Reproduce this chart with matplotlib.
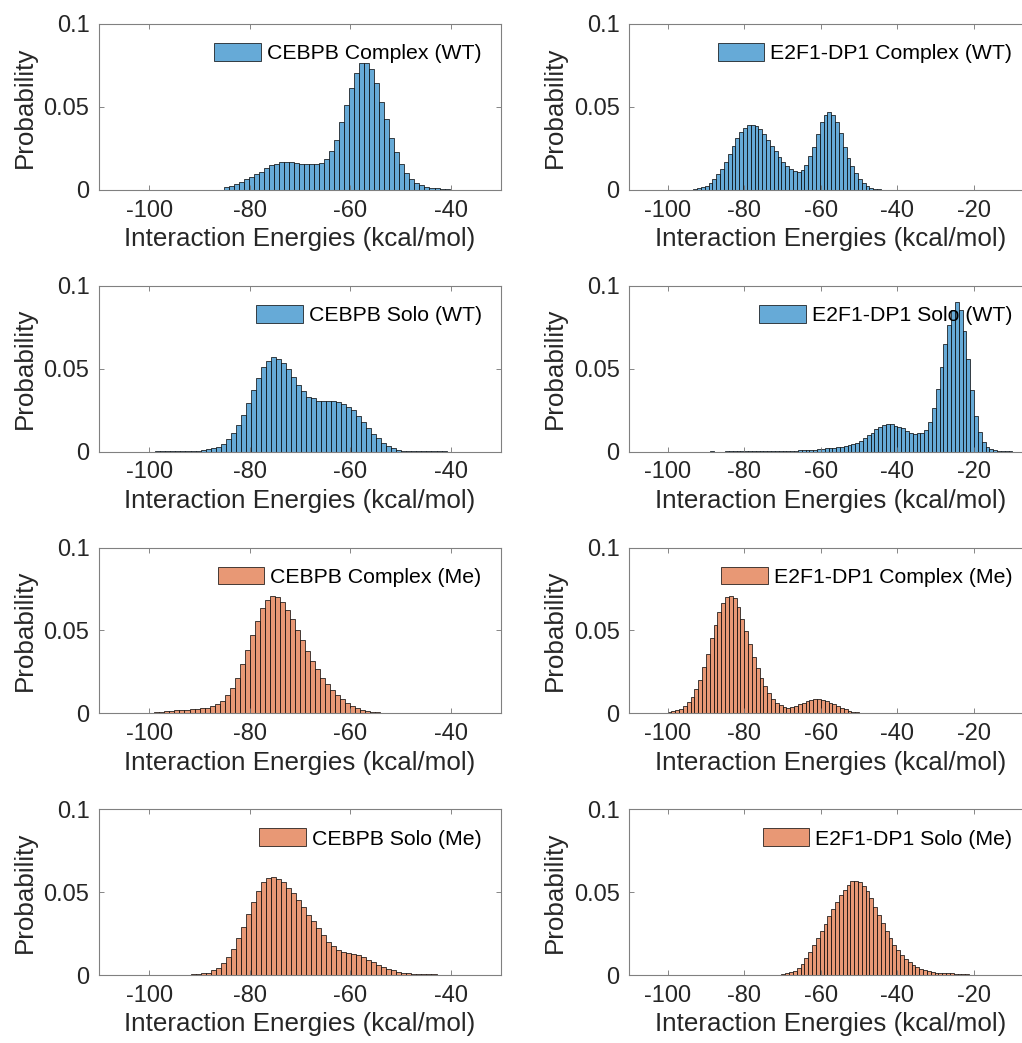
import numpy as np
import matplotlib
matplotlib.use("Agg")
import matplotlib.pyplot as plt

plt.rcParams['font.family'] = ['Liberation Sans', 'DejaVu Sans']
plt.rcParams['axes.unicode_minus'] = False

# bin width is 1 kcal/mol everywhere; start = left edge of the first bin
bin_w = 1.0

cebpb_cx_wt_start = -99.2
cebpb_cx_wt = [0.0001, 0.0001, 0.0001, 0, 0.0001, 0.0001, 0.0001, 0.0001, 0.0001, 0.0001, 0.0001, 0.0001, 0.0001,
               0.0001, 0.0016, 0.0024, 0.0034, 0.005, 0.0067, 0.008, 0.0097, 0.011, 0.013, 0.0147, 0.0157,
               0.0165, 0.0165, 0.0165, 0.016, 0.0157, 0.0155, 0.0153, 0.0155, 0.016, 0.0185, 0.0236, 0.030,
               0.0407, 0.051, 0.0615, 0.0706, 0.0766, 0.0766, 0.0726, 0.0645, 0.0528, 0.0427, 0.0312, 0.0226,
               0.0157, 0.010, 0.0067, 0.0044, 0.0028, 0.0018, 0.001, 0.0008, 0.0006, 0.0004]

e2f1_cx_wt_start = -100.3
e2f1_cx_wt = [0.0001, 0.0001, 0.0001, 0.0001, 0.0001, 0.0001, 0.0001,
              0.0006, 0.001, 0.0016, 0.0026, 0.004, 0.0067, 0.0098, 0.0128, 0.0169, 0.0215, 0.0266, 0.031,
              0.0348, 0.0372, 0.0388, 0.0392, 0.0382, 0.0366, 0.0335, 0.0301, 0.0266, 0.0236, 0.0199, 0.0169,
              0.0144, 0.0128, 0.0114, 0.0108, 0.0118, 0.0148, 0.0203, 0.026, 0.0337, 0.0407, 0.0453, 0.047,
              0.0453, 0.0409, 0.0341, 0.026, 0.0189, 0.0142, 0.0102, 0.0067, 0.004, 0.0024, 0.0012, 0.0006,
              0.0002, 0.0001, 0.0001, 0.0001, 0.0001, 0.0001, 0.0001, 0.0001, 0.0001, 0.0001]

cebpb_solo_wt_start = -98.8
cebpb_solo_wt = [0.0001, 0.0001, 0.0001, 0.0001, 0.0001, 0.0001, 0.0001, 0.0001, 0.0001,
                 0.0008, 0.0014, 0.002, 0.003, 0.0046, 0.0074, 0.011, 0.016, 0.022, 0.0295, 0.037, 0.0442,
                 0.0512, 0.0548, 0.0568, 0.0556, 0.0532, 0.0496, 0.0452, 0.0402, 0.0367, 0.0331, 0.0321,
                 0.0305, 0.0305, 0.0305, 0.0307, 0.0301, 0.0285, 0.0271, 0.0251, 0.0217, 0.0177, 0.0141,
                 0.0106, 0.008, 0.0054, 0.0034, 0.002, 0.0012, 0.0006,
                 0.0001, 0.0001, 0.0001, 0.0001, 0.0001, 0.0001, 0.0001, 0.0001]

e2f1_solo_wt_start = -89.0
e2f1_solo_wt = [0.0003, 0, 0, 0, 0.0001, 0.0001, 0.0001, 0.0001, 0.0001, 0.0001, 0.0001, 0.0001, 0.0001,
                0.0001, 0.0001, 0.0001, 0.0001, 0.0001, 0.0001, 0.0001, 0.0001, 0.0001,
                0.0006, 0.0008, 0.0008, 0.001, 0.0012, 0.0012, 0.0014, 0.0016, 0.002, 0.002, 0.0024, 0.0026,
                0.003, 0.0034, 0.004, 0.0046, 0.0054, 0.0066, 0.008, 0.0098, 0.0114, 0.0135, 0.015, 0.0159,
                0.0167, 0.0165, 0.0157, 0.015, 0.0141, 0.0127, 0.0114, 0.0106, 0.011, 0.011, 0.013, 0.0177,
                0.0261, 0.0378, 0.0512, 0.0649, 0.0763, 0.0853, 0.09, 0.0853, 0.0729, 0.0556, 0.0371, 0.0217,
                0.0116, 0.006, 0.003, 0.0016, 0.001, 0.0006, 0.0004, 0.0004, 0.0003]

cebpb_cx_me_start = -100.0
cebpb_cx_me = [0.0004, 0.0008, 0.001, 0.0012, 0.0014, 0.0018, 0.002, 0.0022, 0.0024, 0.0028, 0.0032, 0.0034,
               0.0042, 0.0054, 0.0075, 0.0109, 0.0155, 0.0216, 0.03, 0.0381, 0.0472, 0.0558, 0.0633, 0.0683,
               0.0706, 0.0702, 0.0673, 0.0625, 0.0569, 0.0502, 0.0444, 0.0377, 0.0317, 0.0266, 0.0216,
               0.0175, 0.0141, 0.0111, 0.0085, 0.006, 0.0044, 0.0032, 0.0022, 0.0014, 0.001, 0.0006,
               0.0002, 0.0001, 0.0001, 0.0001, 0.0001, 0.0001, 0.0001, 0.0001, 0.0001, 0.0001, 0.0001,
               0.0001, 0.0001, 0.0001]

e2f1_cx_me_start = -100.0
e2f1_cx_me = [0.0008, 0.0012, 0.0018, 0.0028, 0.0044, 0.0069, 0.0101, 0.0145, 0.0202, 0.028, 0.0357, 0.0452,
              0.0534, 0.0613, 0.0665, 0.07, 0.0708, 0.0694, 0.0639, 0.0569, 0.0498, 0.0417, 0.0341, 0.0276,
              0.0216, 0.0165, 0.0125, 0.0085, 0.006, 0.005, 0.004, 0.0034, 0.0038, 0.0046, 0.0054, 0.0065,
              0.0073, 0.0079, 0.0085, 0.0085, 0.0081, 0.0075, 0.0065, 0.0054, 0.0044, 0.0034, 0.0024,
              0.0016, 0.001, 0.0006, 0.0002, 0.0001, 0.0001, 0.0001, 0.0001, 0.0001, 0.0001, 0.0001,
              0.0001, 0.0001]

cebpb_solo_me_start = -99.8
cebpb_solo_me = [0.0001, 0.0001, 0.0001, 0.0001, 0.0001, 0.0001, 0.0002, 0.0003,
                 0.0006, 0.0008, 0.0012, 0.0016, 0.003, 0.0044, 0.0074, 0.0108, 0.0158, 0.0224, 0.029,
                 0.0368, 0.0444, 0.0508, 0.056, 0.0588, 0.0592, 0.058, 0.0564, 0.0528, 0.0494, 0.0454,
                 0.041, 0.0364, 0.0324, 0.0284, 0.0244, 0.02, 0.0174, 0.0154, 0.0142, 0.0136, 0.013, 0.012,
                 0.011, 0.0094, 0.008, 0.0064, 0.005, 0.004, 0.003, 0.0022, 0.0016, 0.0012, 0.001, 0.0008,
                 0.0008, 0.0006, 0.0006, 0.0002]

e2f1_solo_me_start = -83.3
e2f1_solo_me = [0.0003, 0.0002, 0, 0, 0, 0.0001, 0.0001, 0.0001, 0.0001, 0.0001, 0.0001, 0.0001, 0.0002,
                0.0008, 0.0012, 0.0018, 0.0028, 0.0044, 0.007, 0.0104, 0.014, 0.018, 0.0224, 0.0268, 0.031,
                0.0354, 0.0398, 0.0444, 0.0484, 0.0514, 0.0542, 0.0568, 0.0568, 0.056, 0.0538, 0.0508,
                0.0464, 0.041, 0.0364, 0.0314, 0.0268, 0.0224, 0.0184, 0.015, 0.0124, 0.01, 0.008, 0.0064,
                0.0052, 0.004, 0.0032, 0.0024, 0.0018, 0.0016, 0.0014, 0.0012, 0.0012, 0.0012, 0.001, 0.001,
                0.0008, 0.0006, 0.0004, 0.0002, 0.0002, 0.0002, 0.0002, 0.0002, 0.0002, 0.0002]

labels = ['CEBPB Complex (WT)', 'E2F1-DP1 Complex (WT)',
          'CEBPB Solo (WT)', 'E2F1-DP1 Solo (WT)',
          'CEBPB Complex (Me)', 'E2F1-DP1 Complex (Me)',
          'CEBPB Solo (Me)', 'E2F1-DP1 Solo (Me)']
starts = [cebpb_cx_wt_start, e2f1_cx_wt_start, cebpb_solo_wt_start, e2f1_solo_wt_start,
          cebpb_cx_me_start, e2f1_cx_me_start, cebpb_solo_me_start, e2f1_solo_me_start]
series = [cebpb_cx_wt, e2f1_cx_wt, cebpb_solo_wt, e2f1_solo_wt,
          cebpb_cx_me, e2f1_cx_me, cebpb_solo_me, e2f1_solo_me]

left_xticks = [-100, -80, -60, -40]
right_xticks = [-100, -80, -60, -40, -20]
yticks = [0, 0.05, 0.1]
ytick_labels = ['0', '0.05', '0.1']

# MATLAB default colours at FaceAlpha 0.6 on white
blue = (0.4, 0.668, 0.845)
orange = (0.91, 0.595, 0.459)
txtcol = (0.15, 0.15, 0.15)

fig = plt.figure(figsize=(10.22, 10.43), dpi=100)

# right column runs past the figure edge, as in the original
col_left = [0.097, 0.6158]
col_width = [0.393, 0.3935]
row_bottom = [0.818, 0.567, 0.316, 0.065]
ax_h = 0.159

for i in range(8):
    r, c = i // 2, i % 2
    ax = fig.add_axes([col_left[c], row_bottom[r], col_width[c], ax_h])
    h = np.array(series[i])
    lefts = starts[i] + bin_w * np.arange(len(h))
    color = blue if r < 2 else orange
    ax.bar(lefts, h, width=bin_w, align='edge', color=color, edgecolor='black',
           linewidth=0.5, label=labels[i])
    if c == 0:
        ax.set_xlim(-110, -30)
        ax.set_xticks(left_xticks)
    else:
        ax.set_xlim(-110, -5)
        ax.set_xticks(right_xticks)
    ax.set_ylim(0, 0.1)
    ax.set_yticks(yticks)
    ax.set_yticklabels(ytick_labels)
    ax.tick_params(direction='in', length=3.5, width=0.6, top=True, right=True,
                   labelsize=17, colors=(0.45, 0.45, 0.45), labelcolor=txtcol, pad=7)
    for s in ax.spines.values():
        s.set_color((0.5, 0.5, 0.5))
        s.set_linewidth(0.8)
    ax.set_xlabel('Interaction Energies (kcal/mol)', fontsize=18.7, color=txtcol, labelpad=4)
    ax.set_ylabel('Probability', fontsize=18.7, color=txtcol, labelpad=5)
    ax.legend(loc='upper right', frameon=False, fontsize=15.3, handlelength=2.2,
              handleheight=0.9, handletextpad=0.28, borderaxespad=0.5, labelcolor='black')

fig.savefig('out.png', dpi=100)
